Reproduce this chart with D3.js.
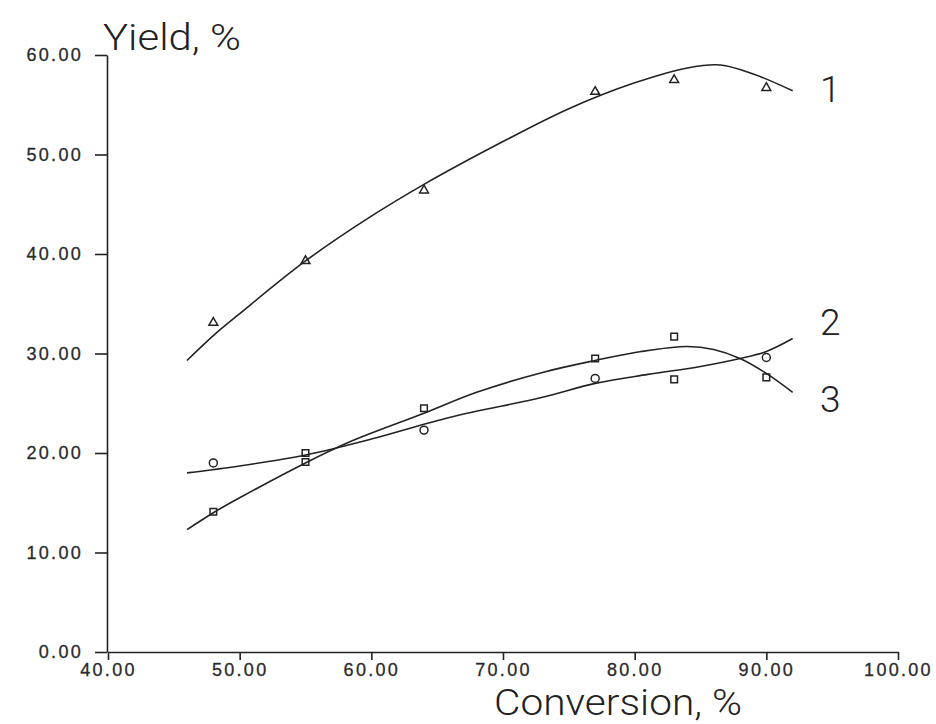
<!DOCTYPE html>
<html>
<head>
<meta charset="utf-8">
<script src="https://cdn.jsdelivr.net/npm/d3@7"></script>
<style>
  body { margin: 0; background: #fff; }
  .axis path, .axis line { stroke: #222; stroke-width: 1.6; }
  .axis text { font-family: "Liberation Sans", Arial, sans-serif; font-size: 18px; letter-spacing: 2.3px; fill: #2a2a2a; stroke: #2a2a2a; stroke-width: 0.3; }
  .title { font-family: Roboto, "Liberation Sans", Arial, sans-serif; font-weight: 300; font-size: 37px; fill: #222; }
  .fit { fill: none; stroke: #222; stroke-width: 1.6; }
  .mark { fill: none; stroke: #222; stroke-width: 1.5; }
</style>
</head>
<body>
<div id="chart"></div>
<script>
// measured points (conversion %, yield %)
var conversion = [48, 55, 64, 77, 83, 90];
var yield1 = [33.1, 39.3, 46.4, 56.3, 57.5, 56.7];
var yield2 = [19.0, 19.1, 22.3, 27.5, 27.4, 29.6];
var yield3 = [14.1, 20.0, 24.5, 29.5, 31.7, 27.6];
var marks1 = ["triangle", "triangle", "triangle", "triangle", "triangle", "triangle"];
var marks2 = ["circle", "square", "circle", "circle", "square", "circle"];
var marks3 = ["square", "square", "square", "square", "square", "square"];

// fitted curves
var fitX1 = [46, 48, 50, 55, 60, 64, 70, 75, 80, 84, 86.5, 89, 92];
var fitY1 = [29.3, 31.8, 34.0, 39.3, 43.8, 47.0, 51.3, 54.6, 57.2, 58.7, 59.0, 58.1, 56.4];
var fitX2 = [46, 50, 55, 60, 66, 73, 77, 81, 85, 88, 90, 92];
var fitY2 = [18.0, 18.7, 19.8, 21.4, 23.6, 25.6, 27.0, 27.9, 28.7, 29.5, 30.2, 31.5];
var fitX3 = [46, 48, 50, 55, 58.5, 64, 68, 73, 77, 80.5, 84, 86, 88, 90, 92];
var fitY3 = [12.3, 14.0, 15.5, 19.0, 21.2, 24.0, 26.1, 28.1, 29.3, 30.2, 30.7, 30.4, 29.5, 28.0, 26.1];

var curveLabels = ["1", "2", "3"];
var curveLabelY = [55.3, 31.9, 24.1]; // label baseline, in yield units

var xTicks = [40, 50, 60, 70, 80, 90, 100];
var yTicks = [0, 10, 20, 30, 40, 50, 60];

var width = 936, height = 724;

var svg = d3.select("#chart").append("svg")
    .attr("width", width)
    .attr("height", height);

var xScale = d3.scaleLinear().domain([40, 100]).range([108, 898]);
var yScale = d3.scaleLinear().domain([0, 60]).range([652, 55]);

var xAxis = d3.axisBottom(xScale)
    .tickValues(xTicks)
    .tickSizeInner(8).tickSizeOuter(0).tickPadding(3)
    .tickFormat(d3.format(".2f"));

var yAxis = d3.axisLeft(yScale)
    .tickValues(yTicks)
    .tickSizeInner(12).tickSizeOuter(0).tickPadding(12)
    .tickFormat(d3.format(".2f"));

svg.append("g")
    .attr("class", "x axis")
    .attr("transform", "translate(0," + yScale(0) + ")")
    .call(xAxis);

svg.append("g")
    .attr("class", "y axis")
    .attr("transform", "translate(" + (xScale(40) - 1) + ",0)")
    .call(yAxis);

// axis titles
svg.append("text")
    .attr("class", "title")
    .attr("x", 103)
    .attr("y", 50)
    .attr("font-size", "39px")
    .attr("textLength", 138)
    .attr("lengthAdjust", "spacingAndGlyphs")
    .text("Yield, %");

svg.append("text")
    .attr("class", "title")
    .attr("x", 494)
    .attr("y", 715)
    .attr("font-size", "34px")
    .attr("textLength", 248)
    .attr("lengthAdjust", "spacingAndGlyphs")
    .text("Conversion, %");

var line = d3.line()
    .x(function(d) { return xScale(d.x); })
    .y(function(d) { return yScale(d.y); })
    .curve(d3.curveCatmullRom.alpha(0.5));

function zip(xs, ys) {
  return xs.map(function(x, i) { return {x: x, y: ys[i]}; });
}

var fits = [zip(fitX1, fitY1), zip(fitX2, fitY2), zip(fitX3, fitY3)];

svg.append("g").selectAll("path")
    .data(fits)
    .enter()
    .append("path")
    .attr("class", "fit")
    .attr("d", line);

var symbolType = {
  triangle: d3.symbolTriangle,
  circle: d3.symbolCircle,
  square: d3.symbolSquare
};
var symbolSize = {triangle: 34, circle: 50, square: 44};

var series = [[yield1, marks1], [yield2, marks2], [yield3, marks3]];

series.forEach(function(s) {
  var pts = conversion.map(function(c, i) { return {x: c, y: s[0][i], m: s[1][i]}; });
  svg.append("g").selectAll("path")
      .data(pts)
      .enter()
      .append("path")
      .attr("class", "mark")
      .attr("transform", function(d) { return "translate(" + xScale(d.x) + "," + yScale(d.y) + ")"; })
      .attr("d", function(d) { return d3.symbol().type(symbolType[d.m]).size(symbolSize[d.m])(); });
});

// curve numbers
svg.append("g").selectAll("text")
    .data(curveLabels)
    .enter()
    .append("text")
    .attr("class", "title")
    .attr("x", 820)
    .attr("y", function(d, i) { return yScale(curveLabelY[i]); })
    .text(function(d) { return d; });
</script>
</body>
</html>
